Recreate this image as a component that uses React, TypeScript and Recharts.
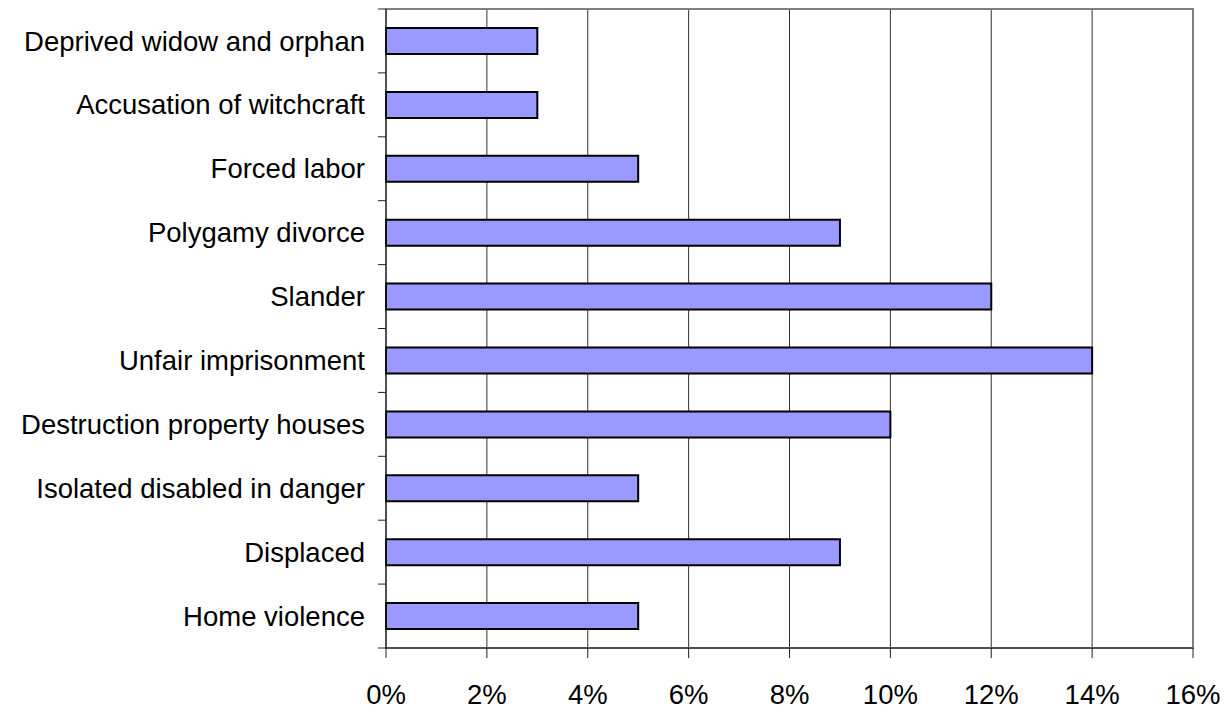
import React from "react";
import {
  BarChart,
  Bar,
  XAxis,
  YAxis,
  CartesianGrid,
  ReferenceArea,
} from "recharts";

const categories = [
  "Deprived widow and orphan",
  "Accusation of witchcraft",
  "Forced labor",
  "Polygamy divorce",
  "Slander",
  "Unfair imprisonment",
  "Destruction property houses",
  "Isolated disabled in danger",
  "Displaced",
  "Home violence",
];

const shares = [0.03, 0.03, 0.05, 0.09, 0.12, 0.14, 0.1, 0.05, 0.09, 0.05];

const xTicks = [0, 0.02, 0.04, 0.06, 0.08, 0.1, 0.12, 0.14, 0.16];

const data = categories.map((name, i) => ({ name, value: shares[i] }));

const WIDTH = 1231;
const HEIGHT = 711;
const MARGIN = { top: 9, right: 38, left: 0, bottom: 3 };
const X_AXIS_HEIGHT = 60;
const PLOT_HEIGHT = HEIGHT - MARGIN.top - MARGIN.bottom - X_AXIS_HEIGHT;
const STEP = PLOT_HEIGHT / categories.length;
const FONT = "'Liberation Sans', Arial, sans-serif";
const FONT_SIZE = 27.5;

// category label plus the short tick marks sitting on the band edges
function CategoryTick(props: any) {
  const { x, y, payload, index } = props;
  const axisX = x + 21;
  const isLast = index === categories.length - 1;
  return (
    <g>
      <line x1={axisX - 8} x2={axisX} y1={y - STEP / 2} y2={y - STEP / 2} stroke="#222" />
      {isLast && (
        <line x1={axisX - 8} x2={axisX} y1={y + STEP / 2} y2={y + STEP / 2} stroke="#222" />
      )}
      <text
        x={x}
        y={y}
        dy="0.35em"
        textAnchor="end"
        fill="#000"
        fontSize={FONT_SIZE}
        fontFamily={FONT}
      >
        {payload.value}
      </text>
    </g>
  );
}

export default function App() {
  return (
    <div style={{ position: "absolute", left: 0, top: 0, background: "#fff" }}>
      <BarChart
        width={WIDTH}
        height={HEIGHT}
        data={data}
        layout="vertical"
        margin={MARGIN}
      >
        <CartesianGrid horizontal={false} stroke="#333" />
        <ReferenceArea x1={0} x2={0.16} fill="none" stroke="#808080" strokeWidth={2} ifOverflow="visible" />
        <XAxis
          type="number"
          domain={[0, 0.16]}
          ticks={xTicks}
          height={X_AXIS_HEIGHT}
          tickFormatter={(v: number) => `${Math.round(v * 100)}%`}
          tick={{ fill: "#000", fontSize: FONT_SIZE, fontFamily: FONT }}
          stroke="#222"
          tickSize={10}
          tickMargin={26}
        />
        <YAxis
          type="category"
          dataKey="name"
          width={386}
          stroke="#222"
          tickLine={false}
          tickSize={0}
          tickMargin={21}
          tick={<CategoryTick />}
          interval={0}
        />
        <Bar
          dataKey="value"
          fill="#9999FF"
          stroke="#000"
          strokeWidth={2}
          barSize={26}
          isAnimationActive={false}
        />
      </BarChart>
    </div>
  );
}
